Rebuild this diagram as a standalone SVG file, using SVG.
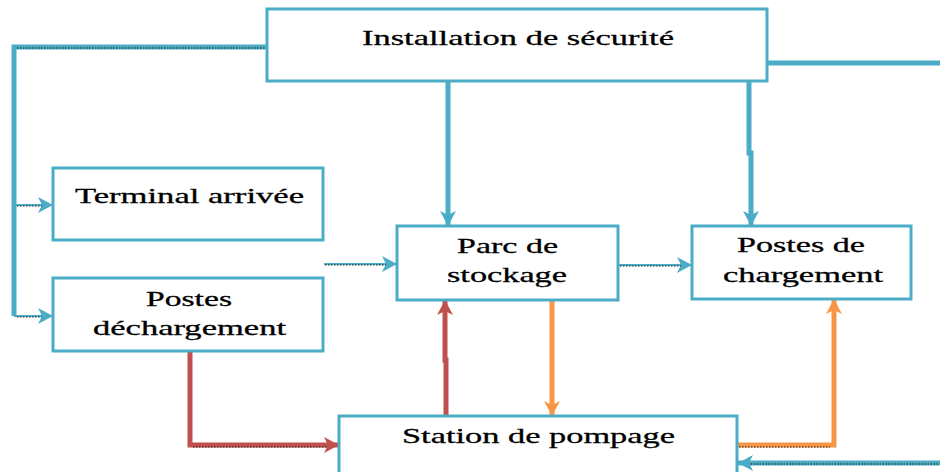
<svg xmlns="http://www.w3.org/2000/svg" width="940" height="472" viewBox="0 0 940 472">
<defs>
<marker id="ab" markerUnits="userSpaceOnUse" markerWidth="18" markerHeight="18" viewBox="0 0 18 18" refX="16" refY="9" orient="auto"><path d="M1,1 L16,9 L1,17 L5,9 Z" fill="#4BACC6"/></marker>
<marker id="ar" markerUnits="userSpaceOnUse" markerWidth="18" markerHeight="18" viewBox="0 0 18 18" refX="16" refY="9" orient="auto"><path d="M1,1 L16,9 L1,17 L5,9 Z" fill="#C0504D"/></marker>
<marker id="ao" markerUnits="userSpaceOnUse" markerWidth="18" markerHeight="18" viewBox="0 0 18 18" refX="16" refY="9" orient="auto"><path d="M1,1 L16,9 L1,17 L5,9 Z" fill="#F79646"/></marker>
</defs>
<style>
.box{fill:#fff;stroke:#4BACC6;stroke-width:3}
.t{font-family:"Liberation Serif","Times New Roman",serif;font-size:22px;fill:#000;stroke:#000;stroke-width:0.3}
.b{fill:none;stroke:#4BACC6;stroke-width:5}
.bt{fill:none;stroke:#4BACC6;stroke-width:2}
.r{fill:none;stroke:#C0504D;stroke-width:5}
.o{fill:none;stroke:#F79646;stroke-width:5}
.d{fill:none;stroke:#222;stroke-width:1.2;stroke-dasharray:1.5 1.5}
</style>
<g id="connectors">
<path class="b" d="M267,47 H14 V316" stroke-width="4"/>
<path class="d" d="M17,48 H265"/>
<path class="bt" d="M14,205 H53" marker-end="url(#ab)"/>
<path class="d" d="M17,206 H42"/>
<path class="bt" d="M14,316 H53" marker-end="url(#ab)"/>
<path class="d" d="M17,317 H42"/>
<path class="bt" d="M324,264 H397" marker-end="url(#ab)"/>
<path class="d" d="M325,265 H386"/>
<path class="b" d="M448,82 V226" marker-end="url(#ab)"/>
<path class="b" d="M749,82 V153 H751 V226" marker-end="url(#ab)"/>
<path class="b" d="M768,63 H940"/>
<path class="bt" d="M619,265 H692" marker-end="url(#ab)"/>
<path class="d" d="M620,266 H681"/>
<path class="r" d="M190,352 V445 H339" marker-end="url(#ar)"/>
<path class="d" d="M193,447 H328"/>
<path class="r" d="M446,416 V360 H445 V300" marker-end="url(#ar)"/>
<path class="o" d="M552,300 V416" marker-end="url(#ao)"/>
<path class="o" d="M738,445 H834 V299" marker-end="url(#ao)"/>
<path class="d" d="M739,447 H830"/>
<path class="b" d="M940,463 H738" stroke-width="3" marker-end="url(#ab)"/>
<path class="d" d="M938,464 H750"/>
</g>
<g id="installation">
<rect class="box" x="267" y="9" width="500" height="72"/>
<text class="t" x="362" y="45" textLength="312" lengthAdjust="spacingAndGlyphs">Installation de sécurité</text>
</g>
<g id="terminal">
<rect class="box" x="53" y="168" width="270" height="72"/>
<text class="t" x="75" y="203" textLength="229" lengthAdjust="spacingAndGlyphs">Terminal arrivée</text>
</g>
<g id="dechargement">
<rect class="box" x="53" y="278" width="270" height="73"/>
<text class="t" x="146" y="306" textLength="86" lengthAdjust="spacingAndGlyphs">Postes</text>
<text class="t" x="93" y="335" textLength="193" lengthAdjust="spacingAndGlyphs">déchargement</text>
</g>
<g id="parc">
<rect class="box" x="397" y="226" width="221" height="74"/>
<text class="t" x="457" y="253" textLength="101" lengthAdjust="spacingAndGlyphs">Parc de</text>
<text class="t" x="447" y="282" textLength="120" lengthAdjust="spacingAndGlyphs">stockage</text>
</g>
<g id="chargement">
<rect class="box" x="692" y="226" width="219" height="73"/>
<text class="t" x="737" y="252" textLength="128" lengthAdjust="spacingAndGlyphs">Postes de</text>
<text class="t" x="723" y="282" textLength="160" lengthAdjust="spacingAndGlyphs">chargement</text>
</g>
<g id="station">
<rect class="box" x="339" y="416" width="398" height="70"/>
<text class="t" x="402" y="443" textLength="273" lengthAdjust="spacingAndGlyphs">Station de pompage</text>
</g>
</svg>
